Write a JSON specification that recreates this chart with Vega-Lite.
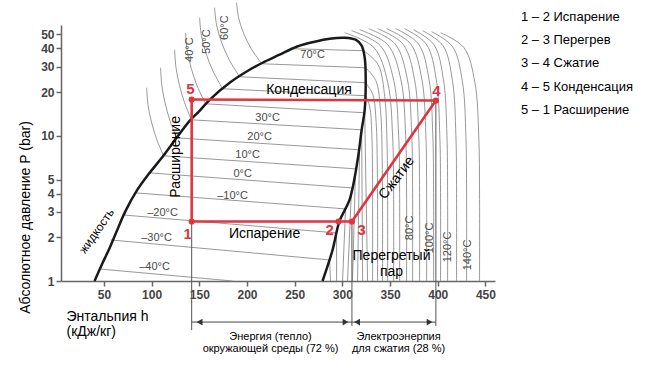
{
"$schema": "https://vega.github.io/schema/vega-lite/v6.json",
"width": 434, "height": 256,
"autosize": "none",
"padding": {"left": 61, "top": 25, "right": 156, "bottom": 84},
"background": "white",
"config": {"view": {"stroke": null}, "font": "Liberation Sans"},
"datasets": {
"iso": [
{"id":"d-40","i":0,"h":45.5,"p":1.21},{"id":"d-40","i":1,"h":184.9,"p":1.0},
{"id":"d-30","i":0,"h":57.0,"p":1.918},{"id":"d-30","i":1,"h":286.6,"p":1.396},
{"id":"d-20","i":0,"h":69.6,"p":2.852},{"id":"d-20","i":1,"h":293.9,"p":2.143},
{"id":"d-10","i":0,"h":83.2,"p":4.045},{"id":"d-10","i":1,"h":303.3,"p":3.137},
{"id":"d0","i":0,"h":97.9,"p":5.557},{"id":"d0","i":1,"h":309.6,"p":4.379},
{"id":"d10","i":0,"h":112.6,"p":7.28},{"id":"d10","i":1,"h":313.8,"p":5.922},
{"id":"d20","i":0,"h":126.2,"p":9.687},{"id":"d20","i":1,"h":318.0,"p":8.007},
{"id":"d30","i":0,"h":141.9,"p":12.89},{"id":"d30","i":1,"h":320.2,"p":11.0},
{"id":"d40","i":0,"h":156.6,"p":16.62},{"id":"d40","i":1,"h":323.4,"p":14.41},
{"id":"d50","i":0,"h":174.4,"p":21.1},{"id":"d50","i":1,"h":324.4,"p":18.88},
{"id":"d60","i":0,"h":192.2,"p":25.52},{"id":"d60","i":1,"h":324.4,"p":23.21},
{"id":"d70","i":0,"h":215.3,"p":31.37},{"id":"d70","i":1,"h":324.4,"p":29.44},
{"id":"d80","i":0,"h":246.7,"p":39.81},{"id":"d80","i":1,"h":322.3,"p":38.58},
{"id":"s-30","i":0,"h":286.6,"p":1.396},{"id":"s-30","i":1,"h":287.6,"p":1.0},
{"id":"s-20","i":0,"h":293.9,"p":2.143},{"id":"s-20","i":1,"h":293.9,"p":1.0},
{"id":"s-10","i":0,"h":303.3,"p":3.137},{"id":"s-10","i":1,"h":300.2,"p":1.0},
{"id":"s0","i":0,"h":309.6,"p":4.379},{"id":"s0","i":1,"h":305.4,"p":1.0},
{"id":"s10","i":0,"h":313.8,"p":5.922},{"id":"s10","i":1,"h":310.6,"p":1.0},
{"id":"s20","i":0,"h":318.0,"p":8.007},{"id":"s20","i":1,"h":315.9,"p":1.0},
{"id":"s30","i":0,"h":320.2,"p":11.0},{"id":"s30","i":1,"h":321.2,"p":1.0},
{"id":"s40","i":0,"h":323.4,"p":14.41},{"id":"s40","i":1,"h":326.4,"p":1.0},
{"id":"s50","i":0,"h":324.3,"p":18.88},{"id":"s50","i":1,"h":328.7,"p":15.82},{"id":"s50","i":2,"h":330.8,"p":10.49},{"id":"s50","i":3,"h":331.6,"p":5.5},{"id":"s50","i":4,"h":331.7,"p":2.797},{"id":"s50","i":5,"h":331.7,"p":1.0},
{"id":"s60","i":0,"h":324.3,"p":23.21},{"id":"s60","i":1,"h":331.9,"p":19.21},{"id":"s60","i":2,"h":335.4,"p":12.37},{"id":"s60","i":3,"h":336.6,"p":6.19},{"id":"s60","i":4,"h":336.9,"p":3.005},{"id":"s60","i":5,"h":336.9,"p":1.0},
{"id":"s70","i":0,"h":324.3,"p":29.44},{"id":"s70","i":1,"h":335.0,"p":24.04},{"id":"s70","i":2,"h":340.0,"p":14.97},{"id":"s70","i":3,"h":341.7,"p":7.11},{"id":"s70","i":4,"h":342.1,"p":3.268},{"id":"s70","i":5,"h":342.1,"p":1.0},
{"id":"s80","i":0,"h":322.3,"p":38.58},{"id":"s80","i":1,"h":337.4,"p":30.97},{"id":"s80","i":2,"h":344.4,"p":18.58},{"id":"s80","i":3,"h":346.9,"p":8.32},{"id":"s80","i":4,"h":347.4,"p":3.592},{"id":"s80","i":5,"h":347.4,"p":1.0},
{"id":"k0","i":0,"h":302.3,"p":51.3},{"id":"k0","i":1,"h":333.1,"p":40.5},{"id":"k0","i":2,"h":347.5,"p":23.35},{"id":"k0","i":3,"h":352.7,"p":9.82},{"id":"k0","i":4,"h":353.7,"p":3.97},{"id":"k0","i":5,"h":353.7,"p":1.0},
{"id":"k1","i":0,"h":309.6,"p":52.98},{"id":"k1","i":1,"h":339.8,"p":41.75},{"id":"k1","i":2,"h":353.9,"p":23.95},{"id":"k1","i":3,"h":359.0,"p":10.0},{"id":"k1","i":4,"h":360.0,"p":4.01},{"id":"k1","i":5,"h":360.0,"p":1.0},
{"id":"k2","i":0,"h":318.0,"p":53.8},{"id":"k2","i":1,"h":347.6,"p":42.38},{"id":"k2","i":2,"h":361.4,"p":24.26},{"id":"k2","i":3,"h":366.3,"p":10.09},{"id":"k2","i":4,"h":367.3,"p":4.04},{"id":"k2","i":5,"h":367.3,"p":1.0},
{"id":"k3","i":0,"h":327.5,"p":54.7},{"id":"k3","i":1,"h":355.2,"p":43.0},{"id":"k3","i":2,"h":368.1,"p":24.57},{"id":"k3","i":3,"h":372.7,"p":10.19},{"id":"k3","i":4,"h":373.6,"p":4.06},{"id":"k3","i":5,"h":373.6,"p":1.0},
{"id":"k4","i":0,"h":336.9,"p":54.7},{"id":"k4","i":1,"h":363.3,"p":43.0},{"id":"k4","i":2,"h":375.6,"p":24.57},{"id":"k4","i":3,"h":380.0,"p":10.19},{"id":"k4","i":4,"h":380.9,"p":4.06},{"id":"k4","i":5,"h":380.9,"p":1.0},
{"id":"k5","i":0,"h":346.3,"p":54.7},{"id":"k5","i":1,"h":371.5,"p":43.0},{"id":"k5","i":2,"h":383.3,"p":24.57},{"id":"k5","i":3,"h":387.5,"p":10.19},{"id":"k5","i":4,"h":388.3,"p":4.06},{"id":"k5","i":5,"h":388.3,"p":1.0},
{"id":"k6","i":0,"h":355.8,"p":54.7},{"id":"k6","i":1,"h":379.7,"p":43.0},{"id":"k6","i":2,"h":390.8,"p":24.57},{"id":"k6","i":3,"h":394.8,"p":10.19},{"id":"k6","i":4,"h":395.6,"p":4.06},{"id":"k6","i":5,"h":395.6,"p":1.0},
{"id":"k7","i":0,"h":365.2,"p":54.7},{"id":"k7","i":1,"h":387.8,"p":43.0},{"id":"k7","i":2,"h":398.4,"p":24.57},{"id":"k7","i":3,"h":402.1,"p":10.19},{"id":"k7","i":4,"h":402.9,"p":4.06},{"id":"k7","i":5,"h":402.9,"p":1.0},
{"id":"k8","i":0,"h":374.6,"p":53.8},{"id":"k8","i":1,"h":396.0,"p":42.38},{"id":"k8","i":2,"h":406.0,"p":24.26},{"id":"k8","i":3,"h":409.6,"p":10.09},{"id":"k8","i":4,"h":410.3,"p":4.04},{"id":"k8","i":5,"h":410.3,"p":1.0},
{"id":"k9","i":0,"h":384.1,"p":52.98},{"id":"k9","i":1,"h":405.5,"p":41.75},{"id":"k9","i":2,"h":415.4,"p":23.95},{"id":"k9","i":3,"h":419.0,"p":10.0},{"id":"k9","i":4,"h":419.7,"p":4.01},{"id":"k9","i":5,"h":419.7,"p":1.0},
{"id":"k10","i":0,"h":393.5,"p":52.14},{"id":"k10","i":1,"h":415.5,"p":41.14},{"id":"k10","i":2,"h":425.8,"p":23.64},{"id":"k10","i":3,"h":429.5,"p":9.91},{"id":"k10","i":4,"h":430.2,"p":3.99},{"id":"k10","i":5,"h":430.2,"p":1.0},
{"id":"k11","i":0,"h":402.9,"p":51.3},{"id":"k11","i":1,"h":427.4,"p":40.5},{"id":"k11","i":2,"h":438.9,"p":23.35},{"id":"k11","i":3,"h":443.0,"p":9.82},{"id":"k11","i":4,"h":443.8,"p":3.97},{"id":"k11","i":5,"h":443.8,"p":1.0},
{"id":"l10","i":0,"h":112.6,"p":7.28},{"id":"l10","i":1,"h":105.1,"p":9.535},{"id":"l10","i":2,"h":99.8,"p":12.49},{"id":"l10","i":3,"h":96.2,"p":16.36},{"id":"l10","i":4,"h":94.8,"p":21.43},
{"id":"l20","i":0,"h":126.2,"p":9.687},{"id":"l20","i":1,"h":119.1,"p":12.79},{"id":"l20","i":2,"h":114.1,"p":16.89},{"id":"l20","i":3,"h":110.7,"p":22.3},{"id":"l20","i":4,"h":109.4,"p":29.44},
{"id":"l30","i":0,"h":141.9,"p":12.89},{"id":"l30","i":1,"h":134.4,"p":17.02},{"id":"l30","i":2,"h":129.1,"p":22.47},{"id":"l30","i":3,"h":125.5,"p":29.67},{"id":"l30","i":4,"h":124.1,"p":39.19},
{"id":"l40","i":0,"h":156.6,"p":16.62},{"id":"l40","i":1,"h":147.8,"p":22.03},{"id":"l40","i":2,"h":141.5,"p":29.21},{"id":"l40","i":3,"h":137.3,"p":38.72},{"id":"l40","i":4,"h":135.6,"p":51.32},
{"id":"l50","i":0,"h":174.4,"p":21.1},{"id":"l50","i":1,"h":164.3,"p":27.96},{"id":"l50","i":2,"h":157.0,"p":37.07},{"id":"l50","i":3,"h":152.2,"p":49.13},{"id":"l50","i":4,"h":150.3,"p":65.13},
{"id":"l60","i":0,"h":192.2,"p":25.52},{"id":"l60","i":1,"h":181.2,"p":33.57},{"id":"l60","i":2,"h":173.3,"p":44.14},{"id":"l60","i":3,"h":168.1,"p":58.04},{"id":"l60","i":4,"h":166.0,"p":76.33},
{"id":"l70","i":0,"h":215.3,"p":31.37},{"id":"l70","i":1,"h":204.3,"p":39.99},{"id":"l70","i":2,"h":196.4,"p":50.92},{"id":"l70","i":3,"h":191.2,"p":64.88},{"id":"l70","i":4,"h":189.1,"p":82.65}
],
"dome": [
{"i":0,"h":40.2,"p":1.0},{"i":1,"h":47.6,"p":1.289},{"i":2,"h":56.0,"p":1.689},{"i":3,"h":64.4,"p":2.284},{"i":4,"h":72.7,"p":3.04},{"i":5,"h":84.3,"p":4.176},{"i":6,"h":97.9,"p":5.557},{"i":7,"h":111.5,"p":7.166},{"i":8,"h":126.2,"p":9.687},{"i":9,"h":139.8,"p":12.69},{"i":10,"h":150.3,"p":14.87},{"i":11,"h":160.8,"p":17.71},{"i":12,"h":181.8,"p":23.21},{"i":13,"h":202.7,"p":28.52},{"i":14,"h":216.4,"p":31.87},{"i":15,"h":234.2,"p":36.19},{"i":16,"h":252.0,"p":41.1},{"i":17,"h":270.9,"p":44.5},{"i":18,"h":286.6,"p":46.67},{"i":19,"h":302.4,"p":47.42},{"i":20,"h":313.9,"p":45.93},{"i":21,"h":320.2,"p":41.76},{"i":22,"h":323.4,"p":34.51},{"i":23,"h":324.4,"p":26.35},{"i":24,"h":323.4,"p":15.11},{"i":25,"h":320.2,"p":11.0},{"i":26,"h":316.0,"p":6.83},{"i":27,"h":307.5,"p":3.62},{"i":28,"h":297.0,"p":2.593},{"i":29,"h":289.7,"p":1.636},{"i":30,"h":279.2,"p":1.0}
],
"cycle": [
{"seg":"1 – 2 Испарение","i":0,"h":142,"p":2.57},{"seg":"1 – 2 Испарение","i":1,"h":296,"p":2.57},
{"seg":"2 – 3  Перегрев","i":0,"h":296,"p":2.57},{"seg":"2 – 3  Перегрев","i":1,"h":310,"p":2.57},
{"seg":"3 – 4 Сжатие","i":0,"h":310,"p":2.57},{"seg":"3 – 4 Сжатие","i":1,"h":398,"p":17.5},
{"seg":"4 – 5 Конденсация","i":0,"h":398,"p":17.5},{"seg":"4 – 5 Конденсация","i":1,"h":142,"p":17.8},
{"seg":"5 – 1 Расширение","i":0,"h":142,"p":17.8},{"seg":"5 – 1 Расширение","i":1,"h":142,"p":2.57}
],
"pts": [{"n":"1","h":142,"p":2.57},{"n":"2","h":296,"p":2.57},{"n":"3","h":310,"p":2.57},{"n":"4","h":398,"p":17.5},{"n":"5","h":142,"p":17.8}],
"nums": [{"n":"1","h":137.8,"p":2.109},{"n":"2","h":286.6,"p":2.247},{"n":"3","h":320.2,"p":2.247},{"n":"4","h":398.7,"p":20.43},{"n":"5","h":140.8,"p":21.1}],
"vlines": [{"h":142,"p":2.57,"p2":0.459},{"h":310,"p":2.57,"p2":0.4895},{"h":398,"p":17.5,"p2":0.4895}],
"hlines": [{"h":142,"h2":310,"p":0.5214},{"h":310,"h2":398,"p":0.5214}],
"heads": [{"h":150.3,"p":0.5214,"dir":"triangle-left"},{"h":303.3,"p":0.5214,"dir":"triangle-right"},{"h":315.4,"p":0.5214,"dir":"triangle-left"},{"h":391.4,"p":0.5214,"dir":"triangle-right"}],
"tl": [{"t":"–40°C","h":103.1,"p":1.249},{"t":"–30°C","h":105.2,"p":1.98},{"t":"–20°C","h":111.5,"p":2.944},{"t":"–10°C","h":184.9,"p":3.857},{"t":"0°C","h":195.4,"p":5.47},{"t":"10°C","h":200.6,"p":7.396},{"t":"20°C","h":213.2,"p":9.842},{"t":"30°C","h":221.6,"p":13.31},{"t":"70°C","h":268.8,"p":36.19}],
"tlr": [{"t":"40°C","h":139.8,"p":39.2},{"t":"50°C","h":157.6,"p":44.5},{"t":"60°C","h":176.5,"p":55.6},{"t":"80°C","h":370.5,"p":2.321},{"t":"100°C","h":391.4,"p":1.98},{"t":"120°C","h":410.3,"p":1.716},{"t":"140°C","h":431.2,"p":1.511}],
"notes": [{"t":"Конденсация","h":265.0,"p":20.76},{"t":"Испарение","h":218.4,"p":2.109},{"t":"Перегретый","h":351.5,"p":1.487},{"t":"пар","h":351.5,"p":1.154}],
"bottom": [{"t":"Энергия (тепло)","h":224.7,"p":0.411},{"t":"окружающей среды (72 %)","h":224.7,"p":0.34},{"t":"Электроэнерпия","h":358.9,"p":0.411},{"t":"для сжатия (28 %)","h":358.9,"p":0.34}]
},
"encoding": {
"x": {"field":"h","type":"quantitative","scale":{"domain":[5,460],"nice":false,"zero":false},
 "axis":{"values":[50,100,150,200,250,300,350,400,450],"grid":false,"domainColor":"#666","domainWidth":1.5,"tickColor":"#666","tickWidth":1.5,"tickSize":5,"labelFont":"Liberation Sans","labelFontWeight":"bold","labelFontSize":12,"labelColor":"#444","labelPadding":3,"labelFlush":false,
 "title":["Энтальпия h","(кДж/кг)"],"titleFont":"Liberation Sans","titleFontWeight":"normal","titleFontSize":14,"titleColor":"#000","titleAnchor":"start","titleAlign":"left","titleBaseline":"top","titleX":5,"titleY":28,"titleLineHeight":15}},
"y": {"field":"p","type":"quantitative","scale":{"type":"log","domain":[1,58],"nice":false},
 "axis":{"values":[1,2,3,4,5,10,20,30,40,50],"format":"~g","grid":false,"domainColor":"#666","domainWidth":1.5,"tickColor":"#666","tickWidth":1.5,"tickSize":5,"labelFont":"Liberation Sans","labelFontWeight":"bold","labelFontSize":12,"labelColor":"#444","labelPadding":2,
 "title":"Абсолютное давление P (bar)","titleFont":"Liberation Sans","titleFontWeight":"normal","titleFontSize":14,"titleColor":"#000","titleAngle":-90,"titleAlign":"center","titleBaseline":"middle","titleX":-36,"titleY":192}}
},
"layer": [
{"data":{"name":"iso"},"mark":{"type":"line","interpolate":"catmull-rom","color":"#8c8c8c","strokeWidth":0.9},"encoding":{"detail":{"field":"id"},"order":{"field":"i","type":"quantitative"}}},
{"data":{"name":"dome"},"mark":{"type":"line","interpolate":"catmull-rom","color":"#1a1a1a","strokeWidth":2.5},"encoding":{"order":{"field":"i","type":"quantitative"}}},
{"data":{"name":"vlines"},"mark":{"type":"rule","color":"#555","strokeWidth":1},"encoding":{"y2":{"field":"p2"}}},
{"data":{"name":"hlines"},"mark":{"type":"rule","color":"#444","strokeWidth":1},"encoding":{"x2":{"field":"h2"}}},
{"data":{"name":"heads"},"mark":{"type":"point","filled":true,"size":45,"color":"#333","opacity":1},"encoding":{"shape":{"field":"dir","type":"nominal","scale":null}}},
{"data":{"name":"cycle"},"mark":{"type":"line","strokeWidth":2.6,"strokeCap":"round","strokeJoin":"round"},
 "encoding":{"order":{"field":"i","type":"quantitative"},
 "color":{"field":"seg","type":"nominal","scale":{"domain":["1 – 2 Испарение","2 – 3  Перегрев","3 – 4 Сжатие","4 – 5 Конденсация","5 – 1 Расширение"],"range":["#e0353f","#e0353f","#e0353f","#e0353f","#e0353f"]},
 "legend":{"orient":"none","legendX":447,"legendY":-15,"title":null,"symbolSize":0,"symbolOpacity":0,"symbolStrokeWidth":0,"labelOffset":0,"labelFont":"Liberation Sans","labelFontSize":13,"labelColor":"#000","rowPadding":9.4,"labelLimit":300,"padding":0}}}},
{"data":{"name":"pts"},"mark":{"type":"point","filled":true,"size":38,"color":"#e0353f","opacity":1}},
{"data":{"name":"nums"},"mark":{"type":"text","font":"Liberation Sans","fontWeight":"bold","fontSize":15,"color":"#e0353f"},"encoding":{"text":{"field":"n"}}},
{"data":{"name":"tl"},"mark":{"type":"text","font":"Liberation Sans","fontSize":11,"color":"#4a4a4a"},"encoding":{"text":{"field":"t"}}},
{"data":{"name":"tlr"},"mark":{"type":"text","font":"Liberation Sans","fontSize":11,"color":"#4a4a4a","angle":270},"encoding":{"text":{"field":"t"}}},
{"data":{"name":"notes"},"mark":{"type":"text","font":"Liberation Sans","fontSize":14,"color":"#000"},"encoding":{"text":{"field":"t"}}},
{"data":{"values":[{"t":"Расширение","h":125.2,"p":7.166}]},"mark":{"type":"text","font":"Liberation Sans","fontSize":14,"color":"#000","angle":270},"encoding":{"text":{"field":"t"}}},
{"data":{"values":[{"t":"Сжатие","h":357.0,"p":5.133}]},"mark":{"type":"text","font":"Liberation Sans","fontSize":14,"color":"#000","angle":307},"encoding":{"text":{"field":"t"}}},
{"data":{"values":[{"t":"жидкость","h":42.3,"p":2.212}]},"mark":{"type":"text","font":"Liberation Sans","fontSize":12,"color":"#000","angle":305},"encoding":{"text":{"field":"t"}}},
{"data":{"name":"bottom"},"mark":{"type":"text","font":"Liberation Sans","fontSize":11,"color":"#000"},"encoding":{"text":{"field":"t"}}}
]
}
